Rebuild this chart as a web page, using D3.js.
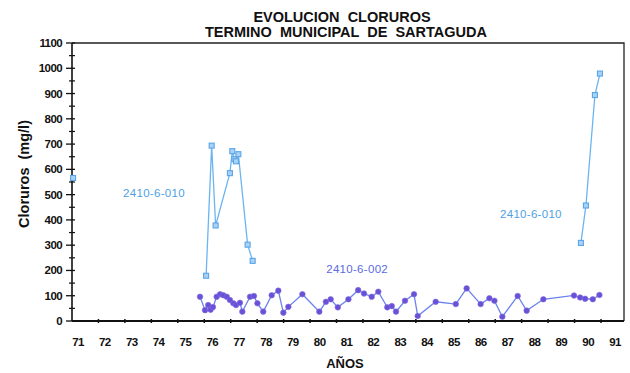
<!DOCTYPE html>
<html><head><meta charset="utf-8">
<script src="https://cdn.jsdelivr.net/npm/d3@7"></script>
<style>
body{margin:0;background:#fff;}
svg{display:block;}
text{font-family:"Liberation Sans",Arial,sans-serif;font-weight:bold;}
</style></head>
<body>
<svg id="c" width="630" height="373"></svg>
<script>
const titleLines = ["EVOLUCION  CLORUROS", "TERMINO  MUNICIPAL  DE  SARTAGUDA"];
const yLabel = "Cloruros  (mg/l)";
const xLabel = "AÑOS";
const yearTicks = d3.range(71, 92);
const yTicks = d3.range(0, 1101, 100);

// 2410-6-010 (light blue, squares)
const s010a_years = [76.07, 76.28, 76.43, 76.97, 77.06, 77.14, 77.20, 77.29, 77.64, 77.83];
const s010a_vals  = [179, 694, 378, 585, 672, 640, 632, 660, 302, 238];
const s010b_years = [90.24, 90.43, 90.77, 90.96];
const s010b_vals  = [309, 457, 894, 979];
const s010c_years = [71.04];
const s010c_vals  = [566];

// 2410-6-002 (blue/purple, circles)
const s002_years = [75.84,76.03,76.15,76.24,76.33,76.47,76.60,76.72,76.85,76.97,77.10,77.20,77.35,77.44,77.73,77.88,78.01,78.23,78.55,78.80,78.99,79.18,79.71,80.35,80.60,80.78,81.05,81.45,81.82,82.04,82.33,82.58,82.92,83.09,83.25,83.59,83.93,84.07,84.75,85.51,85.92,86.45,86.78,86.97,87.27,87.85,88.19,88.82,89.98,90.21,90.40,90.69,90.94];
const s002_vals  = [96,43,63,45,55,96,106,102,96,83,70,63,72,37,96,99,70,37,102,120,33,56,106,37,76,86,54,86,122,109,96,116,54,59,37,80,106,20,76,67,129,67,90,80,17,99,41,86,101,93,88,86,103];

const seriesLabels = [
  {text:"2410-6-010", year:74.1, val:492, color:"#4e9fe4"},
  {text:"2410-6-010", year:88.35, val:406, color:"#4e9fe4"},
  {text:"2410-6-002", year:81.78, val:188, color:"#5a6ae0"}
];

const svg = d3.select("#c");
const x = d3.scaleLinear().domain([71, 91]).range([72, 601]);
const xl = d3.scaleLinear().domain([71, 91]).range([78, 615]);
const y = d3.scaleLinear().domain([0, 1100]).range([321, 43]);

// title
svg.append("text").attr("x", 342).attr("y", 22).attr("text-anchor","middle")
  .attr("font-size", 14.5).attr("fill","#111").style("white-space","pre").text(titleLines[0]);
svg.append("text").attr("x", 346).attr("y", 37).attr("text-anchor","middle")
  .attr("font-size", 14.5).attr("fill","#111").style("white-space","pre").text(titleLines[1]);

// frame
svg.append("path").attr("d", `M${x(71)},${y(1100)}H624V${y(0)}`)
  .attr("fill","none").attr("stroke","#222").attr("stroke-width",1.3);
svg.append("line").attr("x1",x(71)).attr("x2",x(71)).attr("y1",y(1100)).attr("y2",y(0))
  .attr("stroke","#111").attr("stroke-width",1.6);
svg.append("line").attr("x1",x(71)).attr("x2",624).attr("y1",y(0)).attr("y2",y(0))
  .attr("stroke","#111").attr("stroke-width",1.8);

// y ticks
const yMinor = d3.range(50, 1100, 100);
svg.selectAll(".ymaj").data(yTicks).join("line")
  .attr("x1", x(71)-6).attr("x2", x(71)+3).attr("y1", d=>y(d)).attr("y2", d=>y(d))
  .attr("stroke","#111").attr("stroke-width",1.3);
svg.selectAll(".ymin").data(yMinor).join("line")
  .attr("x1", x(71)-3).attr("x2", x(71)+3).attr("y1", d=>y(d)).attr("y2", d=>y(d))
  .attr("stroke","#111").attr("stroke-width",1.2);
svg.selectAll(".ylab").data(yTicks).join("text")
  .attr("x", 62).attr("y", d=>y(d)+4).attr("text-anchor","end")
  .attr("font-size", 11.5).attr("fill","#111").attr("letter-spacing","-0.6").text(d=>d);

// x ticks
svg.selectAll(".xt").data(yearTicks.slice(1)).join("line")
  .attr("x1", d=>x(d)).attr("x2", d=>x(d)).attr("y1", y(0)-2).attr("y2", y(0)+2)
  .attr("stroke","#111").attr("stroke-width",1.5);
svg.selectAll(".xlab").data(yearTicks).join("text")
  .attr("x", d=>xl(d)).attr("y", 346).attr("text-anchor","middle")
  .attr("font-size", 11.5).attr("fill","#111").attr("letter-spacing","-0.6").text(d=>d);

svg.append("text").attr("x", 345).attr("y", 368).attr("text-anchor","middle")
  .attr("font-size", 13).attr("fill","#111").text(xLabel);
svg.append("text").attr("transform","translate(29,174) rotate(-90)").attr("text-anchor","middle")
  .attr("font-size", 14.5).attr("fill","#111").style("white-space","pre").text(yLabel);

// lines
const line = d3.line().x(d=>x(d[0])).y(d=>y(d[1]));
const zip = (a,b)=>a.map((v,i)=>[v,b[i]]);
const c010 = "#6cb4f0", m010 = "#5aa4e8";
const c002 = "#6b84ec", m002 = "#6a50d6";

[zip(s010a_years,s010a_vals), zip(s010b_years,s010b_vals)].forEach(pts=>{
  svg.append("path").attr("d", line(pts)).attr("fill","none").attr("stroke", c010).attr("stroke-width",1.3);
});
const p002 = zip(s002_years, s002_vals);
svg.append("path").attr("d", line(p002)).attr("fill","none").attr("stroke", c002).attr("stroke-width",1.3);

// markers
const all010 = zip(s010a_years,s010a_vals).concat(zip(s010b_years,s010b_vals), zip(s010c_years,s010c_vals));
svg.selectAll(".m010").data(all010).join("rect")
  .attr("x", d=>x(d[0])-2.5).attr("y", d=>y(d[1])-2.5).attr("width",5).attr("height",5)
  .attr("fill","#a9d3f6").attr("stroke", m010).attr("stroke-width",1.1);
svg.selectAll(".m002").data(p002).join("circle")
  .attr("cx", d=>x(d[0])).attr("cy", d=>y(d[1])).attr("r", 2.8)
  .attr("fill", m002).attr("stroke","#7f70e0").attr("stroke-width",0.6);

// series labels
svg.selectAll(".sl").data(seriesLabels).join("text")
  .attr("x", d=>x(d.year)).attr("y", d=>y(d.val)).attr("text-anchor","middle")
  .attr("font-size", 11.5).style("font-weight","normal").attr("letter-spacing","0.3")
  .attr("fill", d=>d.color).text(d=>d.text);
</script>
</body></html>
